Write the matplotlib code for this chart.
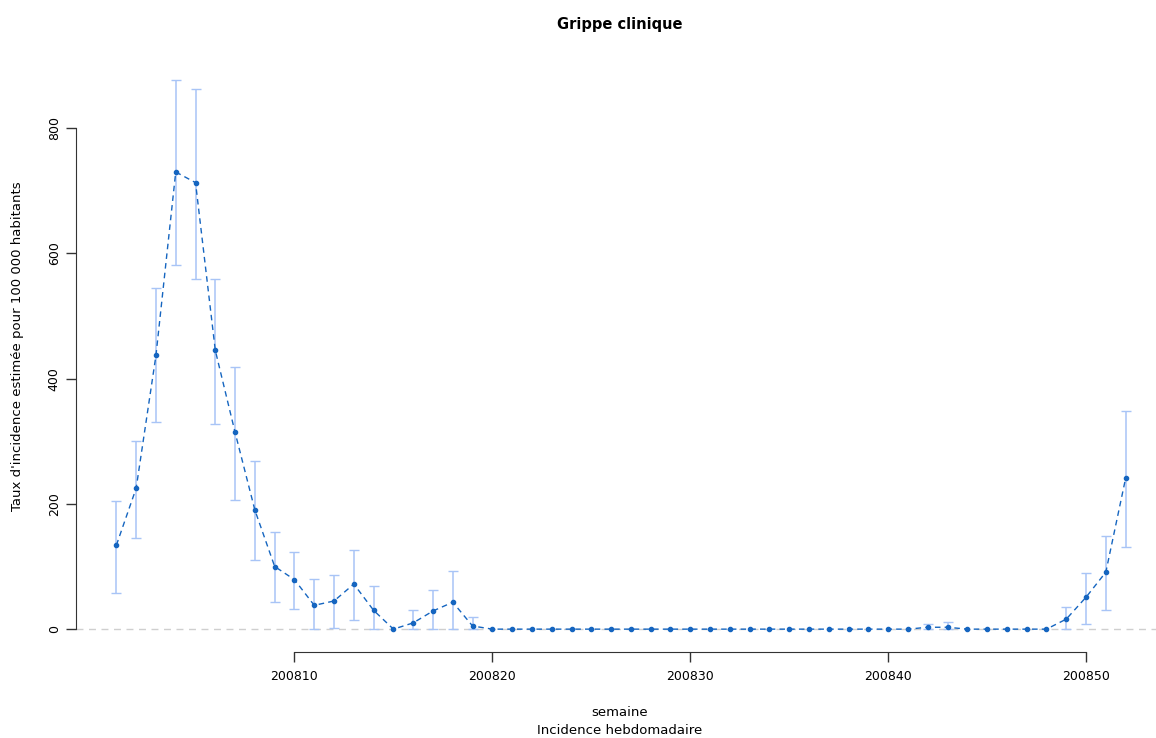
import matplotlib
matplotlib.use("Agg")
import matplotlib.pyplot as plt
import numpy as np

plt.rcParams['font.family'] = ['DejaVu Sans']

# ── Data ──────────────────────────────────────────────────
weeks = np.arange(200801, 200853)

incidence = [134, 225, 437, 730, 713, 445, 314, 190, 100, 79,
             38, 45, 72, 30, 0, 10, 29, 43, 5, 0,
             0, 0, 0, 0, 0, 0, 0, 0, 0, 0,
             0, 0, 0, 0, 0, 0, 0, 0, 0, 0,
             0, 3, 3, 0, 0, 0, 0, 0, 16, 51,
             91, 241]

ic_low = [58, 146, 330, 582, 559, 328, 207, 111, 43, 32,
          0, 2, 15, 0, 0, 0, 0, 0, 0, 0,
          0, 0, 0, 0, 0, 0, 0, 0, 0, 0,
          0, 0, 0, 0, 0, 0, 0, 0, 0, 0,
          0, 0, 0, 0, 0, 0, 0, 0, 0, 9,
          30, 131]

ic_high = [205, 300, 544, 877, 863, 559, 419, 268, 155, 123,
           80, 86, 126, 69, 0, 30, 62, 93, 19, 0,
           0, 0, 0, 0, 0, 0, 0, 0, 0, 0,
           0, 0, 0, 0, 0, 0, 0, 0, 0, 0,
           0, 8, 11, 0, 0, 0, 0, 0, 35, 90,
           148, 349]

xticks = [200810, 200820, 200830, 200840, 200850]
yticks = [0, 200, 400, 600, 800]

# ── Figure ────────────────────────────────────────────────
W, H = 1156, 738
fig = plt.figure(figsize=(W / 100, H / 100), dpi=100)
fig.patch.set_facecolor('white')

# R-like plot region (extends slightly beyond right edge, as in the original)
left_px, right_px, top_px, bottom_px = 76, 1166, 58, 652
ax = fig.add_axes([left_px / W, 1 - bottom_px / H,
                   (right_px - left_px) / W, (bottom_px - top_px) / H])

inc = np.array(incidence, dtype=float)
lo = np.array(ic_low, dtype=float)
hi = np.array(ic_high, dtype=float)

# zero reference line
ax.axhline(0, color='#cfcfcf', lw=1, ls=(0, (5, 4)), zorder=1)

# confidence intervals (only where non-degenerate)
m = hi > lo
ax.errorbar(weeks[m], inc[m], yerr=[inc[m] - lo[m], hi[m] - inc[m]],
            fmt='none', ecolor='#a8c4f6', elinewidth=1.1,
            capsize=3.3, capthick=1.0, zorder=2)

ax.plot(weeks, inc, color='#1565c0', lw=1.0, ls=(0, (4, 3)), zorder=3)
ax.plot(weeks, inc, 'o', color='#1565c0', ms=3.0, mec='#1565c0', zorder=4)

ax.set_xlim(200798.96, 200854.04)
ax.set_ylim(-36.5, 912)

for s in ['top', 'right']:
    ax.spines[s].set_visible(False)
ax.spines['left'].set_bounds(yticks[0], yticks[-1])
ax.spines['bottom'].set_bounds(xticks[0], xticks[-1])
ax.spines['left'].set_color('#333333')
ax.spines['bottom'].set_color('#333333')

ax.set_xticks(xticks)
ax.set_xticklabels([str(t) for t in xticks], fontsize=9)
ax.set_yticks(yticks)
ax.set_yticklabels([str(t) for t in yticks], fontsize=9, rotation=90, va='center')
ax.tick_params(axis='both', length=7, width=1, color='#333333', pad=6)
ax.tick_params(axis='y', pad=4)

fig.text(620 / W, 1 - 24 / H, 'Grippe clinique', ha='center', va='center',
         fontsize=10.5, fontweight='bold')
fig.text(620 / W, 1 - 713 / H, 'semaine', ha='center', va='center', fontsize=9.5)
fig.text(620 / W, 1 - 730 / H, 'Incidence hebdomadaire', ha='center',
         va='center', fontsize=9.5)
fig.text(18 / W, 1 - 346 / H, "Taux d'incidence estimée pour 100 000 habitants",
         ha='center', va='center', rotation=90, fontsize=9.5)

fig.savefig('out.png', dpi=100, facecolor='white')
